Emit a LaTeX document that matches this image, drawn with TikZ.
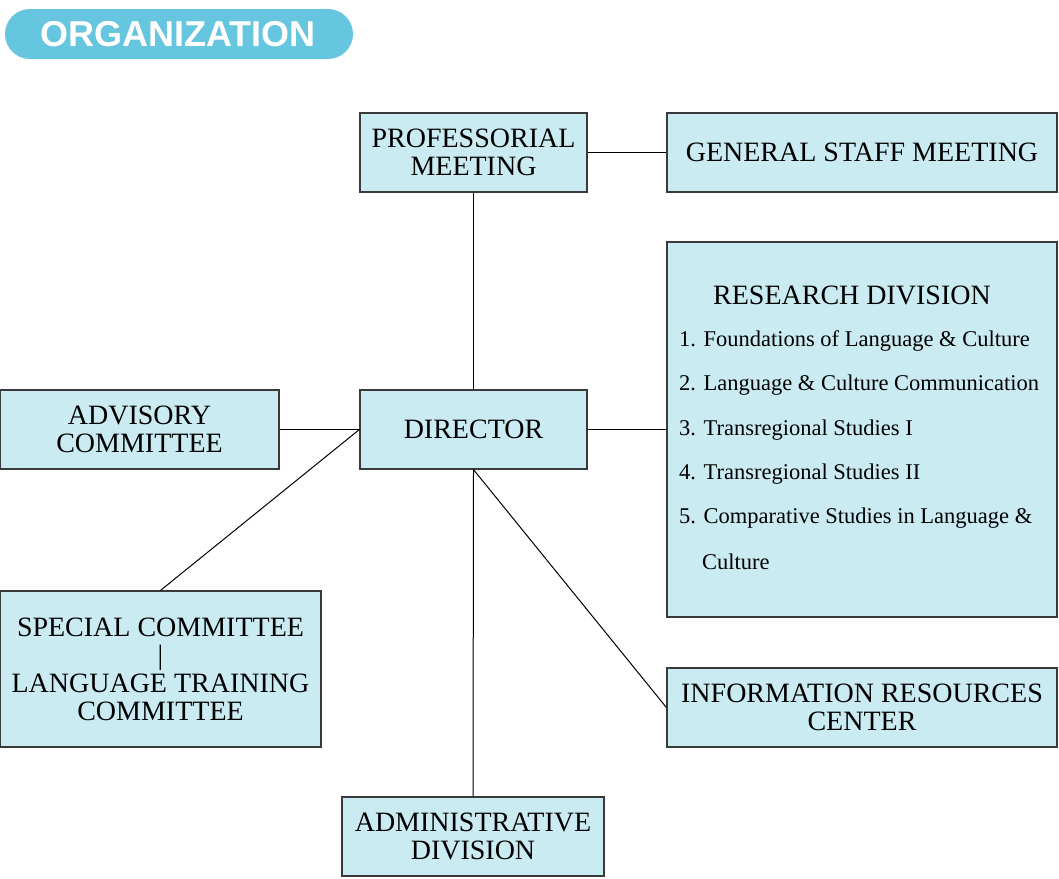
\documentclass[tikz,border=0pt]{standalone}
\usepackage{fontspec}
\setmainfont{Liberation Serif}
\newfontfamily\titlefont{Liberation Sans}
\usetikzlibrary{positioning}
\definecolor{pillblue}{HTML}{66C5DF}
\definecolor{boxfill}{HTML}{CBEBF2}
\definecolor{boxline}{HTML}{3A3A3A}

\begin{document}
\begin{tikzpicture}[x=1pt, y=-1pt,
  orgbox/.style={draw=boxline, line width=1.2pt, fill=boxfill, inner sep=0pt,
    align=center, font=\fontsize{28}{28}\selectfont},
  listitem/.style={anchor=west, inner sep=0pt, font=\fontsize{22.5}{24}\selectfont},
  link/.style={line width=1pt, black}]
\useasboundingbox (0,0) rectangle (1059,878);

% title
\fill[pillblue, rounded corners=25pt] (5,9) rectangle (353,59);
\node[text=white, font=\titlefont\bfseries\fontsize{36}{40}\selectfont] (title) at (178,34) {ORGANIZATION};

% boxes
\node[orgbox, minimum width=227, minimum height=79] (prof) at (473.5,152.5) {PROFESSORIAL\\MEETING};
\node[orgbox, minimum width=390, minimum height=79] (staff) at (862,152.5) {GENERAL STAFF MEETING};
\node[orgbox, minimum width=227, minimum height=79] (director) at (473.5,429.5) {DIRECTOR};
\node[orgbox, minimum width=279, minimum height=79] (advisory) at (139.5,429.5) {ADVISORY\\COMMITTEE};
\node[orgbox, minimum width=321, minimum height=156] (special) at (160.5,669) {SPECIAL COMMITTEE\\|\\LANGUAGE TRAINING\\COMMITTEE};
\node[orgbox, minimum width=390, minimum height=79] (info) at (862,707.5) {INFORMATION RESOURCES\\CENTER};
\node[orgbox, minimum width=262, minimum height=79] (admin) at (473,836.5) {ADMINISTRATIVE\\DIVISION};
\node[orgbox, minimum width=390, minimum height=375] (research) at (862,429.5) {};

% research division contents
\node[font=\fontsize{28}{30}\selectfont, inner sep=0pt] (reshead) at (852,295) {RESEARCH DIVISION};
\node[listitem] (res1) at (679,341) {1. Foundations of Language \& Culture};
\node[listitem] (res2) at (679,385) {2. Language \& Culture Communication};
\node[listitem] (res3) at (679,430) {3. Transregional Studies I};
\node[listitem] (res4) at (679,474) {4. Transregional Studies II};
\node[listitem] (res5) at (679,518) {5. Comparative Studies in Language \&};
\node[listitem] (res5b) at (702,562) {Culture};

% connectors
\draw[link] (prof.south) -- (director.north);
\draw[link] (prof.east) -- (staff.west);
\draw[link] (director.east) -- (research.west);
\draw[link] (advisory.east) -- (director.west);
\draw[link] (director.west) -- (special.north);
\draw[link] (director.south) -- (info.west);
\draw[link] (director.south) -- (admin.north);

\end{tikzpicture}
\end{document}
